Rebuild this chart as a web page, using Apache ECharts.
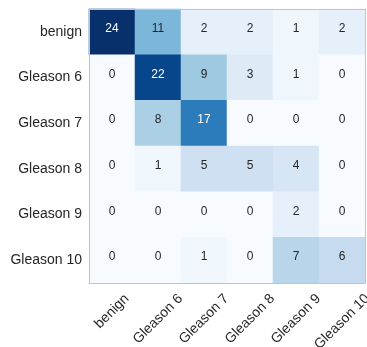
<!DOCTYPE html>
<html>
<head>
<meta charset="utf-8">
<script src="https://cdn.jsdelivr.net/npm/echarts@6/dist/echarts.min.js"></script>
<style>
  html, body { margin: 0; padding: 0; background: #ffffff; }
  #chart { width: 367px; height: 347px; }
</style>
</head>
<body>
<div id="chart"></div>
<script>
// Class names shared by both axes (true label on y, predicted label on x)
const classes = ['benign', 'Gleason 6', 'Gleason 7', 'Gleason 8', 'Gleason 9', 'Gleason 10'];

// Confusion-matrix counts, one row per true class
const rowBenign    = [24, 11,  2, 2, 1, 2];
const rowGleason6  = [ 0, 22,  9, 3, 1, 0];
const rowGleason7  = [ 0,  8, 17, 0, 0, 0];
const rowGleason8  = [ 0,  1,  5, 5, 4, 0];
const rowGleason9  = [ 0,  0,  0, 0, 2, 0];
const rowGleason10 = [ 0,  0,  1, 0, 7, 6];

const rows = [rowBenign, rowGleason6, rowGleason7, rowGleason8, rowGleason9, rowGleason10];

// Sequential blue colour ramp
const blues = ['#f7fbff', '#deebf7', '#c6dbef', '#9ecae1', '#6baed6',
               '#4292c6', '#2171b5', '#08519c', '#08306b'];

const FONT = '"Liberation Sans", Arial, Helvetica, sans-serif';
const TICK_SIZE = 14;
const TEXT_DARK = '#262626';

let maxCount = 0;
const cells = [];
rows.forEach((row, r) => row.forEach((v, c) => {
  if (v > maxCount) maxCount = v;
}));
const threshold = maxCount / 2;
rows.forEach((row, r) => row.forEach((v, c) => {
  cells.push({
    value: [c, r, v],
    label: { color: v > threshold ? '#ffffff' : TEXT_DARK }
  });
}));

const frameLine = { show: true, lineStyle: { color: '#c4c4c4', width: 1 } };

const chart = echarts.init(document.getElementById('chart'), null, { renderer: 'canvas' });
chart.setOption({
  animation: false,
  backgroundColor: '#ffffff',
  grid: { left: 89, top: 9, width: 276, height: 274, outerBoundsMode: 'none' },
  xAxis: [{
    type: 'category',
    data: classes,
    position: 'bottom',
    z: 10,
    axisLine: frameLine,
    axisTick: { show: false },
    splitLine: { show: false },
    axisLabel: { show: false }
  }, {
    type: 'category',
    data: classes,
    position: 'top',
    z: 10,
    axisLine: frameLine,
    axisTick: { show: false },
    axisLabel: { show: false },
    splitLine: { show: false }
  }],
  yAxis: [{
    type: 'category',
    data: classes,
    inverse: true,
    position: 'left',
    z: 10,
    axisLine: frameLine,
    axisTick: { show: false },
    splitLine: { show: false },
    axisLabel: {
      interval: 0,
      margin: 7,
      fontFamily: FONT,
      fontSize: TICK_SIZE,
      color: TEXT_DARK
    }
  }, {
    type: 'category',
    data: classes,
    inverse: true,
    position: 'right',
    z: 10,
    axisLine: frameLine,
    axisTick: { show: false },
    axisLabel: { show: false },
    splitLine: { show: false }
  }],
  visualMap: {
    show: false,
    type: 'continuous',
    min: 0,
    max: maxCount,
    dimension: 2,
    inRange: { color: blues }
  },
  series: [{
    type: 'heatmap',
    xAxisIndex: 0,
    yAxisIndex: 0,
    data: cells,
    itemStyle: { borderWidth: 0 },
    label: {
      show: true,
      offset: [0, -3],
      fontFamily: FONT,
      fontSize: 12,
      formatter: p => String(p.value[2])
    }
  }]
});

// Predicted-class labels under the matrix, rotated 45 degrees.
// Each rotated label box is centred on its column with its top kept
// a fixed gap below the frame, so longer names sit lower.
const ctx = document.createElement('canvas').getContext('2d');
ctx.font = TICK_SIZE + 'px ' + FONT;
const yLast = chart.convertToPixel({ yAxisIndex: 0 }, classes.length - 1);
const yPrev = chart.convertToPixel({ yAxisIndex: 0 }, classes.length - 2);
const frameBottom = yLast + (yLast - yPrev) / 2;
const LABEL_GAP = 8.5;

const xLabels = classes.map((name, i) => {
  const w = ctx.measureText(name).width;
  const drop = Math.SQRT1_2 * (w + TICK_SIZE) / 2;
  return {
    type: 'text',
    x: chart.convertToPixel({ xAxisIndex: 0 }, i),
    y: frameBottom + LABEL_GAP + drop,
    rotation: Math.PI / 4,
    silent: true,
    style: {
      text: name,
      fontFamily: FONT,
      fontSize: TICK_SIZE,
      fill: TEXT_DARK,
      align: 'center',
      verticalAlign: 'middle'
    }
  };
});
chart.setOption({ graphic: xLabels });
</script>
</body>
</html>
